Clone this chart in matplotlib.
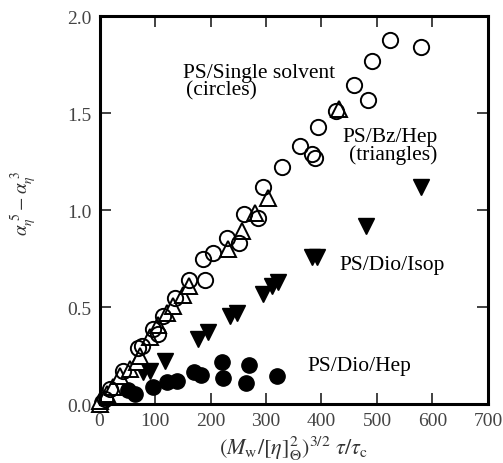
import matplotlib
matplotlib.use("Agg")
import matplotlib.pyplot as plt

plt.rcParams['font.family'] = ['Liberation Serif', 'DejaVu Serif']
plt.rcParams['mathtext.fontset'] = 'stix'

# PS / single solvent (open circles)
single_x = [10, 19, 43, 69, 76, 97, 105, 114, 136, 161, 190, 187, 205, 230, 252, 261, 286,
            295, 329, 361, 383, 389, 394, 426, 459, 484, 491, 523, 579]
single_y = [0.025, 0.08, 0.17, 0.29, 0.30, 0.385, 0.36, 0.455, 0.545, 0.64, 0.64, 0.75, 0.78,
            0.855, 0.83, 0.98, 0.96, 1.12, 1.22, 1.33, 1.29, 1.27, 1.43, 1.51, 1.645, 1.57,
            1.77, 1.876, 1.84]

# PS / Bz / Hep (open triangles)
bzhep_x = [0, 1, 13, 25, 37, 55, 67, 73, 91, 105, 122, 132, 150, 161, 231, 257, 281, 304, 431]
bzhep_y = [0.0, 0.015, 0.05, 0.09, 0.145, 0.18, 0.215, 0.25, 0.345, 0.41, 0.47, 0.505, 0.56,
           0.61, 0.80, 0.89, 0.985, 1.06, 1.52]

# PS / Dio / Isop (filled down triangles)
isop_x = [78, 91, 118, 178, 196, 235, 248, 295, 311, 322, 383, 392, 480, 579]
isop_y = [0.165, 0.17, 0.22, 0.335, 0.37, 0.455, 0.47, 0.57, 0.61, 0.63, 0.76, 0.76, 0.92, 1.12]

# PS / Dio / Hep (filled circles)
hep_x = [5, 52, 64, 97, 121, 140, 170, 183, 221, 222, 264, 269, 320]
hep_y = [0.01, 0.07, 0.05, 0.09, 0.115, 0.12, 0.165, 0.15, 0.215, 0.135, 0.11, 0.20, 0.145]

fig = plt.figure(figsize=(5.03, 4.64), dpi=100)
ax = fig.add_axes([0.198, 0.127, 0.772, 0.836])

ms = 11
ax.plot(hep_x, hep_y, 'o', ms=ms, color='black', clip_on=False)
ax.plot(isop_x, isop_y, 'v', ms=ms, color='black', clip_on=False)
ax.plot(bzhep_x, bzhep_y, '^', ms=ms, mfc='white', mec='black', mew=1.4, clip_on=False)
ax.plot(single_x, single_y, 'o', ms=ms, mfc='none', mec='black', mew=1.4, clip_on=False)

fs = 15.5
ax.text(151, 1.71, 'PS/Single solvent', fontsize=fs, va='center')
ax.text(155, 1.62, '(circles)', fontsize=fs, va='center')
ax.text(437, 1.38, 'PS/Bz/Hep', fontsize=fs, va='center')
ax.text(450, 1.29, '(triangles)', fontsize=fs, va='center')
ax.text(432, 0.72, 'PS/Dio/Isop', fontsize=fs, va='center')
ax.text(374, 0.20, 'PS/Dio/Hep', fontsize=fs, va='center')

ax.set_xlim(0, 700)
ax.set_ylim(0, 2.0)
ax.set_xticks(range(0, 701, 100))
ax.set_yticks([0.0, 0.5, 1.0, 1.5, 2.0])
ax.set_yticklabels(['0.0', '0.5', '1.0', '1.5', '2.0'])
ax.tick_params(direction='in', length=8, width=1.3, top=True, right=True,
               labelsize=14, pad=6, colors='#333333', labelcolor='#444444')
for sp in ax.spines.values():
    sp.set_linewidth(2.2)

ax.set_xlabel(r'$(M_{\mathrm{w}}/[\eta]_{\Theta}^{2})^{3/2}\ \tau/\tau_{\mathrm{c}}$',
              fontsize=16, color='#333333', labelpad=3)
ax.set_ylabel(r'$\alpha_{\eta}^{\ 5}-\alpha_{\eta}^{\ 3}$', fontsize=14, color='#333333')
ax.yaxis.set_label_coords(-0.155, 0.52)

fig.savefig('out.png', dpi=100)
